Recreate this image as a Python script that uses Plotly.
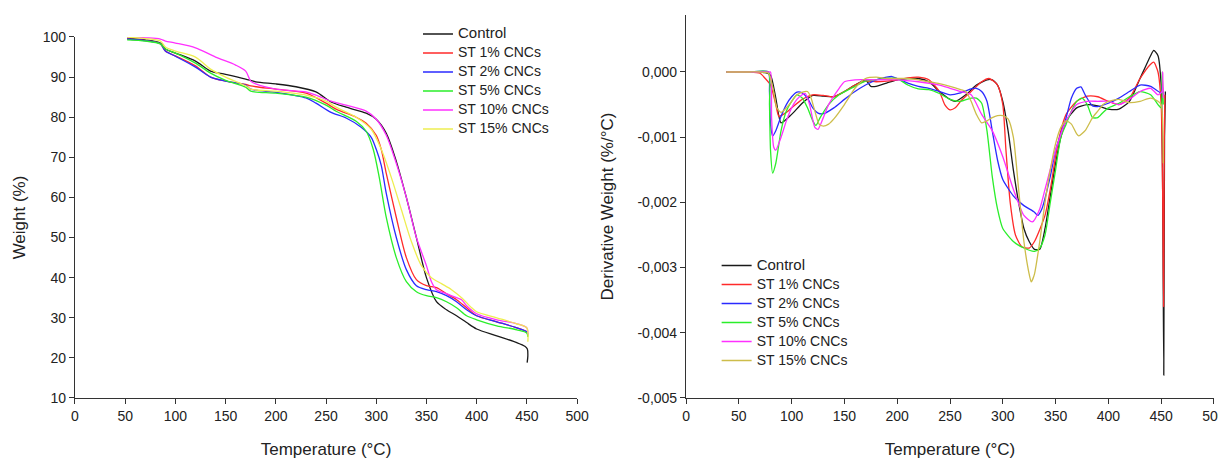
import plotly.graph_objects as go

series_names = ["Control", "ST 1% CNCs", "ST 2% CNCs", "ST 5% CNCs", "ST 10% CNCs", "ST 15% CNCs"]

# ---------------- TGA (weight %) ----------------
tga_control_T = [52, 70, 85, 90, 100, 120, 135, 150, 170, 180, 200, 220, 240, 255, 270, 290, 300, 310, 320, 330, 340, 350, 360, 370, 380, 390, 400, 420, 440, 448, 450.5, 451, 450.3]
tga_control_W = [99.7, 99.3, 98.5, 97, 96, 94, 91.5, 90.7, 89.5, 88.8, 88.3, 87.6, 86.3, 83.8, 82.5, 81, 79.5, 76, 69, 60, 50, 40, 34, 32, 30.5, 28.8, 27.2, 25.5, 23.8, 22.9, 22.2, 20.5, 18.8]

tga_st1_T = [52, 70, 85, 90, 100, 120, 135, 150, 170, 175, 200, 230, 250, 260, 280, 290, 300, 305, 310, 320, 330, 340, 350, 360, 370, 380, 390, 400, 420, 440, 450, 451]
tga_st1_W = [99.5, 99.1, 98.3, 96.5, 95.3, 92.8, 90, 89, 88.2, 87.8, 87, 86, 83.5, 82, 80, 78.5, 75.5, 72, 66, 55, 45, 39.5, 38, 37.5, 36, 34.5, 32.5, 30.5, 29, 27.5, 26.5, 25.5]

tga_st2_T = [52, 70, 85, 90, 100, 120, 135, 150, 170, 175, 200, 230, 240, 255, 270, 285, 295, 300, 305, 310, 320, 330, 340, 350, 360, 370, 380, 390, 400, 420, 440, 450, 451]
tga_st2_W = [99.5, 99.1, 98.3, 96.5, 95.2, 92.5, 90, 89, 88, 87, 86.2, 84.8, 83.5, 81.2, 79.8, 77.5, 75, 72, 68, 61, 50, 42, 38, 37, 36.5, 35.5, 34, 32, 30.5, 29, 27.5, 26.5, 25.8]

tga_st5_T = [52, 70, 85, 90, 100, 120, 135, 150, 170, 175, 200, 230, 250, 260, 280, 290, 297, 303, 310, 320, 330, 340, 350, 360, 370, 380, 390, 400, 420, 440, 450, 451]
tga_st5_W = [99.3, 99.0, 98.3, 97, 96, 93.5, 91, 89.2, 87.5, 86.5, 86, 85, 83, 81.5, 79, 76.5, 72, 65, 55, 45, 39, 36.5, 35.5, 35, 34, 32.5, 30.5, 29.5, 28, 27, 26.2, 25.2]

tga_st10_T = [52, 70, 85, 90, 100, 120, 140, 160, 170, 175, 180, 200, 230, 240, 255, 270, 290, 300, 310, 318, 330, 340, 350, 355, 360, 370, 380, 385, 390, 400, 420, 440, 450, 451]
tga_st10_W = [100, 99.8, 99.5, 99, 98.5, 97.3, 95, 93, 91.5, 89, 88.3, 87, 86.3, 85.5, 84, 83, 81.5, 79.5, 75.5, 70, 60, 50, 43, 39, 37, 36, 35, 34.5, 33, 31, 29.5, 28.5, 27.5, 26]

tga_st15_T = [52, 70, 85, 90, 100, 120, 135, 150, 170, 175, 200, 230, 250, 260, 280, 295, 305, 315, 325, 335, 345, 355, 365, 375, 385, 395, 400, 420, 440, 450, 451]
tga_st15_W = [100, 99.6, 99, 97.5, 96.5, 95, 92, 90, 87.8, 87, 86.5, 85.5, 84, 82.5, 80, 77, 72, 65, 57, 49, 43, 40, 38.5, 37, 35, 32.5, 31.5, 30, 28.5, 27.5, 24]

# ---------------- DTG (derivative weight, %/°C) ----------------
dtg_control_T = [38, 60, 75, 80, 85, 90, 100, 110, 120, 130, 140, 150, 160, 170, 175, 180, 190, 200, 210, 220, 230, 240, 250, 255, 265, 275, 285, 290, 295, 300, 305, 310, 315, 320, 325, 330, 335, 340, 345, 350, 355, 360, 370, 380, 390, 400, 410, 420, 430, 440, 443, 447, 450, 451.5, 452.5, 453.2, 454]
dtg_control_D = [0.0, 0.0, -0.00001, -0.00005, -0.0004, -0.00078, -0.00065, -0.00048, -0.00036, -0.00037, -0.00038, -0.0003, -0.0002, -0.00012, -0.00022, -0.00022, -0.00017, -0.00012, -0.0001, -0.0001, -0.00015, -0.0003, -0.00042, -0.00045, -0.00035, -0.0002, -0.00012, -0.00012, -0.0002, -0.00045, -0.0009, -0.0015, -0.002, -0.0024, -0.0026, -0.00272, -0.00272, -0.0024, -0.0019, -0.0014, -0.001, -0.00075, -0.00055, -0.0005, -0.00052, -0.00057, -0.00057, -0.00045, -0.0001, 0.00025, 0.00033, 0.00025, -0.0002, -0.002, -0.00465, -0.001, -0.0003]

dtg_st1_T = [38, 60, 70, 75, 80, 85, 88, 95, 100, 110, 120, 130, 140, 150, 160, 170, 180, 190, 200, 210, 220, 230, 240, 245, 250, 255, 260, 270, 280, 287, 295, 300, 303, 307, 312, 318, 325, 330, 340, 345, 350, 355, 360, 370, 380, 390, 400, 410, 420, 430, 440, 443, 447, 450, 451.5, 452.3, 453, 453.5]
dtg_st1_D = [0.0, 0.0, -0.00002, -0.0001, -0.0002, -0.0005, -0.00068, -0.00062, -0.00055, -0.00042, -0.00035, -0.00036, -0.00038, -0.0003, -0.0002, -0.00014, -0.00015, -0.00014, -0.00012, -0.00009, -0.00008, -0.00012, -0.0003, -0.0005, -0.00058, -0.00055, -0.00045, -0.0003, -0.00015, -0.0001, -0.0002, -0.0005, -0.0012, -0.002, -0.0025, -0.00268, -0.0027, -0.0026, -0.0022, -0.0018, -0.0013, -0.0009, -0.00065, -0.00045, -0.00037, -0.00038, -0.00045, -0.0005, -0.0004, -0.0001, 0.00012, 0.00015, 0.0, -0.0005, -0.002, -0.0036, -0.001, -0.00035]

dtg_st2_T = [38, 60, 78, 79, 80, 82, 85, 90, 95, 100, 105, 110, 115, 120, 125, 130, 140, 150, 160, 170, 180, 190, 195, 200, 210, 220, 230, 240, 250, 260, 270, 275, 280, 285, 290, 295, 300, 310, 320, 330, 333, 337, 345, 350, 360, 365, 370, 374, 378, 385, 390, 400, 410, 420, 430, 440, 450, 451, 452]
dtg_st2_D = [0.0, 0.0, 0.0, -0.0003, -0.0008, -0.00098, -0.0009, -0.00068, -0.0005, -0.00038, -0.00031, -0.00032, -0.0004, -0.00055, -0.00063, -0.00064, -0.00055, -0.00042, -0.0003, -0.0002, -0.00012, -0.00008, -0.00007, -0.0001, -0.00017, -0.00022, -0.00025, -0.0003, -0.00035, -0.00032, -0.00026, -0.00025, -0.0003, -0.00045, -0.0009, -0.00135, -0.00165, -0.0019, -0.00205, -0.00215, -0.0022, -0.0021, -0.0016, -0.0012, -0.0007, -0.0004, -0.00025, -0.00023, -0.00035, -0.00052, -0.00053, -0.00048, -0.0004, -0.0003, -0.0002, -0.00022, -0.00032, -0.0002, -0.00035]

dtg_st5_T = [38, 60, 78, 79, 80, 82, 85, 90, 95, 100, 105, 110, 115, 120, 123, 127, 135, 145, 160, 170, 180, 190, 200, 210, 220, 230, 240, 250, 260, 270, 275, 280, 285, 290, 295, 300, 310, 320, 330, 335, 340, 345, 350, 355, 360, 365, 370, 375, 380, 385, 390, 395, 400, 410, 420, 430, 440, 447, 450, 451, 452]
dtg_st5_D = [0.0, 0.0, 0.0, -0.0005, -0.0012, -0.00155, -0.0014, -0.0009, -0.0006, -0.00045, -0.00035, -0.0004, -0.00055, -0.00075, -0.00082, -0.0007, -0.0005, -0.00035, -0.00022, -0.00014, -0.00012, -0.0001, -0.0001, -0.0002, -0.00026, -0.00027, -0.00033, -0.00042, -0.00045, -0.0004, -0.0004, -0.00048, -0.0009, -0.0016, -0.0021, -0.0024, -0.0026, -0.0027, -0.00275, -0.0027, -0.0025, -0.002, -0.0015, -0.001, -0.0008, -0.0006, -0.00045, -0.0004, -0.0005, -0.0007, -0.0007, -0.00062, -0.00055, -0.00048, -0.00038, -0.0003, -0.00035, -0.0005, -0.00055, 0.0, -0.0005]

dtg_st10_T = [38, 60, 78, 80, 81, 83, 85, 90, 95, 100, 105, 110, 113, 117, 122, 125, 130, 135, 145, 150, 160, 180, 200, 220, 240, 250, 260, 270, 280, 290, 300, 310, 320, 328, 335, 340, 350, 360, 370, 380, 390, 400, 410, 420, 430, 440, 447, 451, 451.5, 452]
dtg_st10_D = [0.0, 0.0, 0.0, 0.0, -0.0007, -0.00115, -0.0012, -0.001, -0.00075, -0.00055, -0.00042, -0.00035, -0.00033, -0.0005, -0.00085, -0.00088, -0.0007, -0.0005, -0.00025, -0.00015, -0.00012, -0.00012, -0.00012, -0.00015, -0.0002, -0.00025, -0.0003, -0.00035, -0.00065, -0.0009, -0.0013, -0.0018, -0.0022, -0.0023, -0.0021, -0.0018, -0.0012, -0.00075, -0.0005, -0.00045, -0.00045, -0.00045, -0.0005, -0.00042, -0.0003, -0.00025, -0.00035, -0.0003, 0.0, -0.0004]

dtg_st15_T = [38, 60, 70, 78, 80, 83, 86, 90, 95, 100, 105, 112, 115, 118, 122, 126, 130, 135, 140, 150, 160, 170, 180, 190, 200, 210, 220, 230, 240, 250, 260, 265, 270, 275, 280, 285, 290, 295, 300, 305, 310, 315, 320, 325, 327, 330, 335, 340, 345, 350, 355, 360, 365, 370, 372, 378, 385, 390, 395, 400, 410, 420, 430, 440, 447, 450, 452]
dtg_st15_D = [0.0, 0.0, 0.0, -0.00002, -0.0001, -0.0003, -0.00055, -0.00062, -0.00055, -0.00045, -0.00035, -0.0003, -0.0003, -0.00038, -0.0006, -0.0008, -0.00083, -0.0008, -0.00072, -0.0005, -0.00025, -0.0001, -0.00008, -0.0001, -0.0001, -0.0001, -0.00012, -0.00015, -0.00018, -0.00022, -0.00027, -0.0003, -0.00045, -0.00065, -0.00078, -0.00075, -0.0007, -0.00067, -0.00067, -0.00072, -0.001, -0.0018, -0.0026, -0.0031, -0.00322, -0.0031, -0.0026, -0.002, -0.0015, -0.0011, -0.00085, -0.00075, -0.0008, -0.00095, -0.00098, -0.0009, -0.0007, -0.0006, -0.0005, -0.00045, -0.00042, -0.00047, -0.00045, -0.0004, -0.00045, -0.0005, -0.0014]

x_ticks = [0, 50, 100, 150, 200, 250, 300, 350, 400, 450, 500]
tga_y_ticks = [10, 20, 30, 40, 50, 60, 70, 80, 90, 100]
dtg_y_ticks = [0.0, -0.001, -0.002, -0.003, -0.004, -0.005]
dtg_y_ticktext = ["0,000", "-0,001", "-0,002", "-0,003", "-0,004", "-0,005"]

tga_colors = ["#1a1a1a", "#ff2a2a", "#2a2aff", "#2aee2a", "#ff30ff", "#eeee50"]
dtg_colors = ["#1a1a1a", "#ff2a2a", "#2a2aff", "#2aee2a", "#ff30ff", "#cdbd4a"]

tga_T = [tga_control_T, tga_st1_T, tga_st2_T, tga_st5_T, tga_st10_T, tga_st15_T]
tga_W = [tga_control_W, tga_st1_W, tga_st2_W, tga_st5_W, tga_st10_W, tga_st15_W]
dtg_T = [dtg_control_T, dtg_st1_T, dtg_st2_T, dtg_st5_T, dtg_st10_T, dtg_st15_T]
dtg_D = [dtg_control_D, dtg_st1_D, dtg_st2_D, dtg_st5_D, dtg_st10_D, dtg_st15_D]

FONT = "Liberation Sans, Arial, sans-serif"


def legend_label(name):
    # legend text drawn at 14px while the legend row height follows the smaller legend font
    size = 15 if name == "Control" else 14
    return f"<span style='font-size:{size}px'>{name}</span>"


fig = go.Figure()
for i, name in enumerate(series_names):
    fig.add_trace(go.Scatter(x=tga_T[i], y=tga_W[i], mode="lines", name=legend_label(name),
                             line=dict(color=tga_colors[i], width=1.3, shape="spline", smoothing=0.8),
                             xaxis="x", yaxis="y", legend="legend"))
for i, name in enumerate(series_names):
    fig.add_trace(go.Scatter(x=dtg_T[i], y=dtg_D[i], mode="lines", name=legend_label(name),
                             line=dict(color=dtg_colors[i], width=1.3, shape="spline", smoothing=0.6),
                             xaxis="x2", yaxis="y2", legend="legend2"))

axis_common = dict(showline=True, linecolor="#333333", linewidth=1.2, ticks="outside", ticklen=5,
                   tickcolor="#333333", showgrid=False, zeroline=False, automargin=False,
                   tickfont=dict(family=FONT, size=14, color="#222222"))

# the page body adds an 8px offset, so the figure is 8px smaller than the window
fig.update_layout(
    width=1218, height=451,
    margin=dict(l=0, r=0, t=0, b=0),
    paper_bgcolor="white", plot_bgcolor="white",
    font=dict(family=FONT, color="#222222"),
    xaxis=dict(domain=[0.0550, 0.4672], range=[0, 500], tickvals=x_ticks, anchor="y",
               title=dict(text="Temperature (°C)", font=dict(size=17), standoff=21), **axis_common),
    yaxis=dict(domain=[0.1353, 0.9357], range=[10, 100], tickvals=tga_y_ticks, anchor="x",
               title=dict(text="Weight (%)", font=dict(size=17), standoff=12), **axis_common),
    xaxis2=dict(domain=[0.5567, 0.9901], range=[0, 500], tickvals=x_ticks, anchor="y2",
                title=dict(text="Temperature (°C)", font=dict(size=17), standoff=21), **axis_common),
    yaxis2=dict(domain=[0.1353, 0.9845], range=[-0.005, 0.000874], tickvals=dtg_y_ticks,
                ticktext=dtg_y_ticktext, anchor="x2",
                title=dict(text="Derivative Weight (%/°C)", font=dict(size=17), standoff=19), **axis_common),
    legend=dict(x=0.3366, y=0.9745, xanchor="left", yanchor="top", bgcolor="rgba(0,0,0,0)",
                font=dict(family=FONT, size=11, color="#222222"), tracegroupgap=0),
    legend2=dict(x=0.5818, y=0.4612, xanchor="left", yanchor="top", bgcolor="rgba(0,0,0,0)",
                 font=dict(family=FONT, size=11, color="#222222"), tracegroupgap=0),
    showlegend=True,
)

fig.write_html("out.html")
